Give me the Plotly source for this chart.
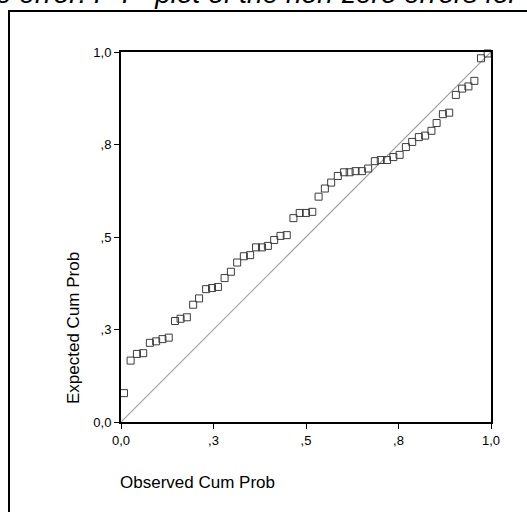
import plotly.graph_objects as go

observed = [0.008, 0.026, 0.043, 0.060, 0.078, 0.095, 0.112, 0.129, 0.146, 0.161,
            0.178, 0.195, 0.211, 0.230, 0.246, 0.262, 0.280, 0.297, 0.314, 0.332,
            0.349, 0.365, 0.381, 0.397, 0.414, 0.431, 0.448, 0.466, 0.483, 0.500,
            0.517, 0.534, 0.551, 0.568, 0.586, 0.603, 0.618, 0.634, 0.651, 0.668,
            0.686, 0.702, 0.719, 0.736, 0.753, 0.770, 0.787, 0.805, 0.822, 0.839,
            0.853, 0.870, 0.887, 0.905, 0.922, 0.939, 0.955, 0.973, 0.991]
expected = [0.078, 0.166, 0.184, 0.186, 0.214, 0.218, 0.224, 0.228, 0.273, 0.279,
            0.283, 0.317, 0.334, 0.359, 0.362, 0.365, 0.389, 0.406, 0.431, 0.448,
            0.451, 0.472, 0.472, 0.476, 0.492, 0.503, 0.505, 0.551, 0.565, 0.565,
            0.568, 0.609, 0.631, 0.647, 0.665, 0.675, 0.675, 0.678, 0.678, 0.685,
            0.705, 0.708, 0.708, 0.716, 0.722, 0.743, 0.757, 0.770, 0.774, 0.787,
            0.808, 0.832, 0.836, 0.884, 0.901, 0.907, 0.922, 0.983, 0.996]
ref_line = [0.0, 1.0]
tick_vals = [0.0, 0.25, 0.5, 0.75, 1.0]
tick_text = ["0,0", ",3", ",5", ",8", "1,0"]

W, H = 527, 512
L, R, T, B = 121, 36, 52, 90
PW, PH = W - L - R, H - T - B

def px(xp):
    return (xp - L) / PW

def py(yp):
    return (H - B - yp) / PH

font = "Liberation Sans, Arial, sans-serif"

fig = go.Figure()
fig.add_trace(go.Scatter(x=ref_line, y=ref_line, mode="lines",
                         line=dict(color="#a0a0a0", width=1.2), hoverinfo="skip"))
fig.add_trace(go.Scatter(x=observed, y=expected, mode="markers",
                         marker=dict(symbol="square-open", size=7,
                                     color="#3c3c3c", line=dict(width=1)),
                         cliponaxis=False))

axis_common = dict(range=[0, 1], tickvals=tick_vals, ticktext=tick_text,
                   showgrid=False, zeroline=False, showline=True, linecolor="black",
                   linewidth=2, mirror=True, ticks="outside", ticklen=5,
                   tickcolor="black", tickwidth=1,
                   tickfont=dict(family=font, size=13, color="black"))

fig.update_layout(
    width=W, height=H,
    margin=dict(l=L, r=R, t=T, b=B),
    paper_bgcolor="white", plot_bgcolor="white",
    showlegend=False,
    xaxis=dict(**axis_common),
    yaxis=dict(**axis_common),
    shapes=[dict(type="rect", xref="paper", yref="paper",
                 x0=px(9), x1=px(540), y0=py(530), y1=py(11),
                 line=dict(color="black", width=2), fillcolor="rgba(0,0,0,0)")],
    annotations=[
        dict(text="Observed Cum Prob", xref="paper", yref="paper",
             x=px(118), y=py(482), xanchor="left", yanchor="middle",
             showarrow=False, font=dict(family=font, size=17, color="black")),
        dict(text="Expected Cum Prob", xref="paper", yref="paper",
             x=px(73), y=py(328), xanchor="center", yanchor="middle",
             textangle=-90, showarrow=False,
             font=dict(family=font, size=17, color="black")),
        dict(text="<i>e error: P-P  plot of the non-zero errors for</i>",
             xref="paper", yref="paper", x=px(522), y=py(11),
             xanchor="right", yanchor="bottom", showarrow=False,
             font=dict(family=font, size=28, color="black")),
    ],
)

fig.write_html("out.html")
